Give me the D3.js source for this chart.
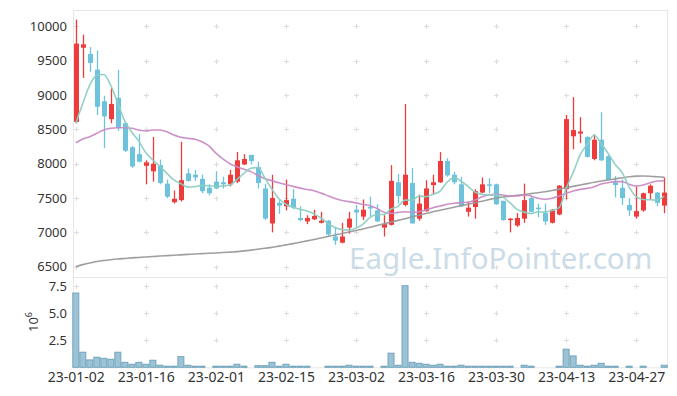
<!DOCTYPE html>
<html><head><meta charset="utf-8">
<script src="https://cdn.jsdelivr.net/npm/d3@7"></script>
<style>body{margin:0;background:#fff;} svg{display:block;font-family:"Noto Sans",sans-serif;}</style>
</head><body><svg id="c" width="677" height="396"></svg>
<script>
const dates = ["23-01-02","23-01-03","23-01-04","23-01-05","23-01-06","23-01-09","23-01-10","23-01-11","23-01-12","23-01-13",
"23-01-16","23-01-17","23-01-18","23-01-19","23-01-20","23-01-25","23-01-26","23-01-27","23-01-30","23-01-31",
"23-02-01","23-02-02","23-02-03","23-02-06","23-02-07","23-02-08","23-02-09","23-02-10","23-02-13","23-02-14",
"23-02-15","23-02-16","23-02-17","23-02-20","23-02-21","23-02-22","23-02-23","23-02-24","23-02-27","23-02-28",
"23-03-02","23-03-03","23-03-06","23-03-07","23-03-08","23-03-09","23-03-10","23-03-13","23-03-14","23-03-15",
"23-03-16","23-03-17","23-03-20","23-03-21","23-03-22","23-03-23","23-03-24","23-03-27","23-03-28","23-03-29",
"23-03-30","23-03-31","23-04-03","23-04-04","23-04-05","23-04-06","23-04-07","23-04-10","23-04-11","23-04-12",
"23-04-13","23-04-14","23-04-17","23-04-18","23-04-19","23-04-20","23-04-21","23-04-24","23-04-25","23-04-26",
"23-04-27","23-04-28","23-05-02","23-05-03","23-05-04"];
const open = [8610,9690,9600,9370,8910,8650,8960,8590,8240,8140, 7970,7890,7980,7710,7440,7470,7860,7840,7780,7650,
7740,7730,7700,7740,7990,8130,7950,7640,7130,7430, 7380,7490,7210,7160,7190,7140,7170,6940,6850,7070,
7330,7230,7370,7320,7070,7110,7730,7400,7720,7200, 7310,7690,7730,8040,7840,7700,7300,7370,7580,7700,
7700,7460,7180,7100,7200,7500,7360,7280,7140,7260, 7630,8400,8440,8390,8070,8350,8110,7730,7650,7400,
7230,7320,7570,7580,7390];
const high = [10100,9880,9700,9650,8990,9100,9370,8600,8260,8430, 8050,8390,8060,7770,7610,8320,7930,7910,7840,7700,
7890,7810,7910,8170,8140,8130,8030,7710,7840,7470, 7770,7630,7380,7250,7330,7300,7180,7080,7140,7300,
7400,7480,7520,7410,7250,7980,7850,8870,7940,7550, 7760,7840,8170,8080,7880,7810,7450,7630,7800,7790,
7710,7460,7210,7280,7710,7520,7420,7420,7340,7690, 8710,8970,8680,8400,8430,8750,8120,7820,7770,7500,
7670,7580,7700,7590,7800];
const low = [8590,9250,9340,8710,8230,8590,8480,8170,7940,8020, 7700,7740,7700,7500,7420,7450,7740,7750,7570,7540,
7630,7640,7670,7720,7980,7990,7640,7180,7000,7270, 7320,7340,7160,7120,7180,7130,6940,6820,6840,6980,
7080,7180,7230,7150,6940,7100,7420,7380,7130,7170, 7300,7550,7720,7810,7700,7370,7230,7200,7570,7570,
7400,7170,7000,7080,7140,7290,7220,7110,7130,7250, 7480,8210,8300,8090,8050,8040,7760,7510,7400,7240,
7200,7300,7480,7380,7280];
const close = [9750,9740,9470,8830,8690,8870,8520,8190,7960,8030, 8020,8000,7720,7520,7490,7760,7750,7800,7600,7570,
7640,7700,7840,8050,8070,8040,7720,7200,7500,7390, 7470,7360,7180,7210,7240,7170,6970,6880,6940,7200,
7290,7330,7350,7160,7120,7750,7530,7840,7130,7420, 7640,7730,8040,7830,7730,7380,7360,7600,7700,7680,
7410,7180,7200,7210,7470,7300,7340,7160,7330,7680, 8650,8490,8470,8100,8350,8050,7770,7690,7500,7320,
7310,7570,7680,7430,7580];
const ma5 = [8590,8880,9150,9290,9300,9140,8880,8620,8460,8330, 8160,8055,7960,7860,7765,7710,7660,7665,7685,7680,
7670,7675,7690,7770,7860,7935,7945,7790,7630,7490, 7410,7365,7335,7310,7270,7210,7130,7070,7040,7035,
7060,7120,7220,7260,7260,7340,7380,7470,7470,7530, 7520,7555,7600,7730,7800,7745,7670,7585,7555,7545,
7545,7510,7430,7335,7295,7275,7300,7295,7320,7360, 7640,7870,8130,8280,8415,8295,8150,7990,7870,7660,
7520,7480,7475,7470,7530];
const ma20 = [8306,8360,8394,8443,8492,8516,8525,8525,8516,8492, 8477,8492,8492,8467,8419,8385,8370,8356,8321,8260,
8155,8070,8000,7955,7920,7885,7830,7780,7752,7722, 7698,7670,7645,7626,7606,7572,7533,7493,7465,7448,
7430,7408,7389,7350,7292,7278,7292,7301,7292,7301, 7326,7360,7384,7409,7424,7433,7438,7472,7520,7545,
7555,7545,7530,7530,7545,7530,7496,7482,7496,7530, 7569,7603,7627,7641,7666,7705,7724,7739,7739,7700,
7676,7690,7724,7749,7753];
const ma120 = [6500,6530,6555,6575,6590,6602,6612,6620,6628,6635, 6642,6648,6655,6661,6667,6673,6679,6685,6690,6695,
6700,6706,6713,6720,6730,6742,6755,6768,6782,6800, 6818,6836,6856,6876,6896,6918,6940,6962,6984,7006,
7028,7050,7075,7100,7125,7150,7175,7200,7225,7250, 7275,7300,7322,7344,7366,7388,7410,7432,7455,7478,
7500,7515,7528,7540,7552,7565,7578,7592,7610,7630, 7650,7670,7690,7710,7730,7748,7765,7780,7795,7810,
7820,7822,7818,7810,7802];
const volume = [6.85,1.39,0.68,0.93,0.83,0.74,1.39,0.46,0.28,0.46, 0.28,0.65,0.19,0.1,0.1,0.98,0.19,0.1,0.1,0,
0.1,0.1,0.1,0.28,0.1,0,0.15,0.15,0.46,0.1, 0.28,0.1,0.1,0.1,0,0,0.1,0.1,0.1,0.19,
0.1,0.1,0.1,0,0.1,1.3,0.19,7.53,0.46,0.37, 0.28,0.19,0.28,0.1,0.1,0.19,0.1,0.1,0.1,0.1,
0.1,0.1,0.1,0,0.19,0.1,0,0,0,0.1, 1.67,1.05,0.19,0.1,0.19,0.37,0.1,0.1,0,0.1,
0,0.1,0,0,0.19];
const priceTicks = [6500,7000,7500,8000,8500,9000,9500,10000];
const volTicks = [2.5,5.0,7.5];
const xTicks = [0,10,20,30,40,50,60,70,80];
const watermark = "Eagle.InfoPointer.com";

const svg = d3.select("#c");
const L=73, R=667, T=10, MID=277, B=367.3;
const x = d3.scaleLinear().domain([-0.4,84.4]).range([L,R]);
const y = d3.scaleLinear().domain([6350,10240]).range([MID,T]);
const yv = d3.scaleLinear().domain([0,8.33]).range([B,MID]);

// frames
svg.append("rect").attr("x",L+0.5).attr("y",T+0.5).attr("width",R-L).attr("height",MID-T)
  .attr("fill","none").attr("stroke","#e6e6e6");
svg.append("rect").attr("x",L+0.5).attr("y",MID+0.5).attr("width",R-L).attr("height",B-MID)
  .attr("fill","none").attr("stroke","#e6e6e6");

// grid crosses
const cross = (g, cx, cy) => {
  g.append("line").attr("x1",cx-2.5).attr("x2",cx+2.5).attr("y1",cy).attr("y2",cy);
  g.append("line").attr("x1",cx).attr("x2",cx).attr("y1",cy-2.5).attr("y2",cy+2.5);
};
const gc = svg.append("g").attr("stroke","#dcdcdc").attr("stroke-width",1);
xTicks.forEach(t => {
  priceTicks.forEach(p => cross(gc, Math.round(x(t))+0.5, Math.round(y(p))+0.5));
  volTicks.forEach(v => cross(gc, Math.round(x(t))+0.5, Math.round(yv(v))+0.5));
});

// watermark
svg.append("text").attr("x",349).attr("y",269).attr("font-size",29.5)
  .attr("fill","#c3d6e3").attr("opacity",0.85).text(watermark);

// axes
const ay = svg.append("g").attr("transform",`translate(${L},0)`)
  .call(d3.axisLeft(y).tickValues(priceTicks).tickFormat(d3.format("d")).tickSize(0).tickPadding(6));
const ayv = svg.append("g").attr("transform",`translate(${L},0)`)
  .call(d3.axisLeft(yv).tickValues(volTicks).tickFormat(d3.format(".1f")).tickSize(0).tickPadding(6));
const ax = svg.append("g").attr("transform",`translate(0,${B})`)
  .call(d3.axisBottom(x).tickValues(xTicks).tickFormat(i => dates[i]).tickSize(0).tickPadding(5));
[ay,ayv,ax].forEach(g => {
  g.select(".domain").remove();
  g.selectAll("text").attr("fill","#333").attr("font-family","Noto Sans").attr("font-size",13);
});
ax.selectAll("text").attr("font-size",14);

// 10^6 label
const lab = svg.append("text").attr("transform","translate(38,322) rotate(-90)")
  .attr("text-anchor","middle").attr("fill","#333").attr("font-size",13);
lab.append("tspan").text("10");
lab.append("tspan").attr("dy",-6).attr("font-size",9).text("6");

// volume bars
const idx = d3.range(dates.length);
svg.append("g").selectAll("rect").data(idx.filter(i => volume[i] > 0)).join("rect")
  .attr("x", i => x(i)-3).attr("width",6)
  .attr("y", i => yv(volume[i])).attr("height", i => B - yv(volume[i]))
  .attr("fill","#9cc3d5").attr("stroke","#72a5bd").attr("stroke-width",1);

// candles
const UP="#ee3b3b", DOWN="#6cc3db";
const gk = svg.append("g");
gk.selectAll("line").data(idx).join("line")
  .attr("x1", i => Math.round(x(i))+0.5).attr("x2", i => Math.round(x(i))+0.5)
  .attr("y1", i => y(high[i])).attr("y2", i => y(low[i]))
  .attr("stroke", i => close[i] >= open[i] ? UP : DOWN).attr("stroke-width",1.3);
gk.selectAll("rect").data(idx).join("rect")
  .attr("x", i => Math.round(x(i))-2).attr("width",5)
  .attr("y", i => y(Math.max(open[i],close[i])))
  .attr("height", i => Math.max(1.5, Math.abs(y(open[i]) - y(close[i]))))
  .attr("fill", i => close[i] >= open[i] ? UP : DOWN);

// moving averages
const line = d3.line().x((d,i) => x(i)).y(d => y(d)).curve(d3.curveMonotoneX);
[[ma120,"#9a9a9a"],[ma20,"#c98bc6"],[ma5,"#8ccfc2"]].forEach(([s,c]) => {
  svg.append("path").datum(s).attr("d",line).attr("fill","none")
    .attr("stroke",c).attr("stroke-width",1.6).attr("opacity",0.95);
});
</script></body></html>
